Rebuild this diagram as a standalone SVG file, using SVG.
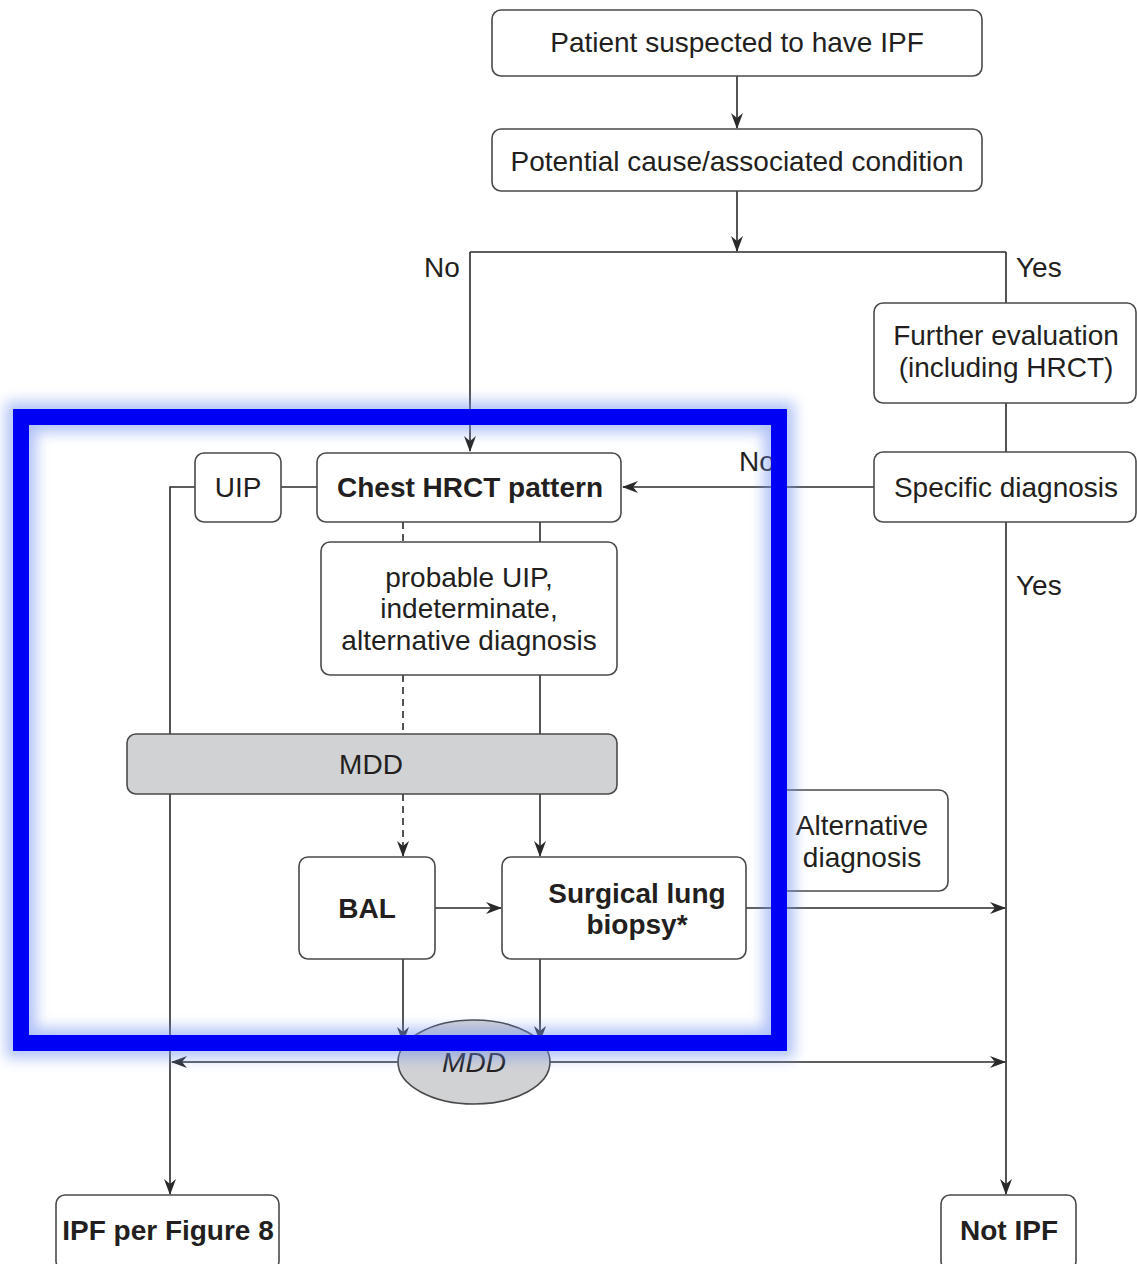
<svg xmlns="http://www.w3.org/2000/svg" width="1137" height="1264" viewBox="0 0 1137 1264">
<style>
.box{fill:#fff;stroke:#4a4a4a;stroke-width:1.6}
.gray{fill:#d1d2d4;stroke:#4a4a4a;stroke-width:1.6}
.t{font-family:"Liberation Sans",Arial,sans-serif;font-size:28px;fill:#231f20;text-anchor:middle;dominant-baseline:central}
.b{font-weight:bold}
.lbl{font-family:"Liberation Sans",Arial,sans-serif;font-size:28px;fill:#231f20;dominant-baseline:central}
.ln{fill:none;stroke:#2a2a2a;stroke-width:1.6}
.ar{marker-end:url(#ah)}
.dash{stroke-dasharray:7,5}
</style>
<defs>
<marker id="ah" viewBox="0 0 16 12" refX="15" refY="6" markerWidth="16" markerHeight="12" markerUnits="userSpaceOnUse" orient="auto">
<path d="M0,0 L16,6 L0,12 L5,6 Z" fill="#2a2a2a"/>
</marker>
<filter id="glow" x="-10%" y="-10%" width="120%" height="120%">
<feGaussianBlur stdDeviation="7"/>
</filter>
</defs>
<rect width="1137" height="1264" fill="#fff"/>
<g id="connectors">
<path class="ln ar" d="M737,76 V128"/>
<path class="ln ar" d="M737,191 V251"/>
<path class="ln" d="M470,252 H1006"/>
<path class="ln ar" d="M470,252 V451"/>
<path class="ln" d="M1006,252 V303"/>
<path class="ln" d="M1006,403 V452"/>
<path class="ln ar" d="M874,487 H623"/>
<path class="ln ar" d="M1006,522 V1194"/>
<path class="ln" d="M281,487 H317"/>
<path class="ln ar" d="M195,487 H170 V1194"/>
<path class="ln dash" d="M403,522 V542"/>
<path class="ln" d="M540,522 V542"/>
<path class="ln dash" d="M403,675 V734"/>
<path class="ln" d="M540,675 V734"/>
<path class="ln dash ar" d="M403,794 V856"/>
<path class="ln ar" d="M540,794 V856"/>
<path class="ln ar" d="M435,908 H501"/>
<path class="ln ar" d="M746,908 H1005"/>
<path class="ln ar" d="M403,959 V1042"/>
<path class="ln ar" d="M540,959 V1041"/>
<path class="ln ar" d="M398,1062 H172"/>
<path class="ln ar" d="M550,1062 H1005"/>
<text class="lbl" x="424" y="267">No</text>
<text class="lbl" x="1016" y="267">Yes</text>
<text class="lbl" x="739" y="461">No</text>
<text class="lbl" x="1016" y="585">Yes</text>
</g>
<g id="n1"><rect class="box" x="492" y="10" width="490" height="66" rx="9"/><text class="t" x="737" y="42">Patient suspected to have IPF</text></g>
<g id="n2"><rect class="box" x="492" y="129" width="490" height="62" rx="9"/><text class="t" x="737" y="161">Potential cause/associated condition</text></g>
<g id="n3"><rect class="box" x="874" y="303" width="262" height="100" rx="9"/><text class="t" x="1006" y="335">Further evaluation</text><text class="t" x="1006" y="367">(including HRCT)</text></g>
<g id="n4"><rect class="box" x="874" y="452" width="262" height="70" rx="9"/><text class="t" x="1006" y="487">Specific diagnosis</text></g>
<g id="n5"><rect class="box" x="317" y="453" width="304" height="69" rx="9"/><text class="t b" x="470" y="487">Chest HRCT pattern</text></g>
<g id="n6"><rect class="box" x="195" y="453" width="86" height="69" rx="9"/><text class="t" x="238" y="487">UIP</text></g>
<g id="n7"><rect class="box" x="321" y="542" width="296" height="133" rx="9"/><text class="t" x="469" y="577">probable UIP,</text><text class="t" x="469" y="608">indeterminate,</text><text class="t" x="469" y="640">alternative diagnosis</text></g>
<g id="n8"><rect class="gray" x="127" y="734" width="490" height="60" rx="9"/><text class="t" x="371" y="764">MDD</text></g>
<g id="n9"><rect class="box" x="299" y="857" width="136" height="102" rx="9"/><text class="t b" x="367" y="908">BAL</text></g>
<g id="n10"><rect class="box" x="502" y="857" width="244" height="102" rx="9"/><text class="t b" x="637" y="893">Surgical lung</text><text class="t b" x="637" y="924">biopsy*</text></g>
<g id="n11"><rect class="box" x="778" y="790" width="170" height="101" rx="9"/><text class="t" x="862" y="825">Alternative</text><text class="t" x="862" y="857">diagnosis</text></g>
<g id="n12"><ellipse class="gray" cx="474" cy="1062" rx="76" ry="42"/><text class="t" x="474" y="1062" font-style="italic">MDD</text></g>
<g id="n13"><rect class="box" x="56" y="1195" width="223" height="75" rx="9"/><text class="t b" x="168" y="1230">IPF per Figure 8</text></g>
<g id="n14"><rect class="box" x="941" y="1195" width="135" height="75" rx="9"/><text class="t b" x="1009" y="1230">Not IPF</text></g>
<g id="highlight">
<rect x="21" y="417" width="758" height="626" fill="none" stroke="#6f8ff0" stroke-width="30" opacity="0.55" filter="url(#glow)"/>
<rect x="21" y="417" width="758" height="626" fill="none" stroke="#0000f5" stroke-width="16"/>
</g>
</svg>
